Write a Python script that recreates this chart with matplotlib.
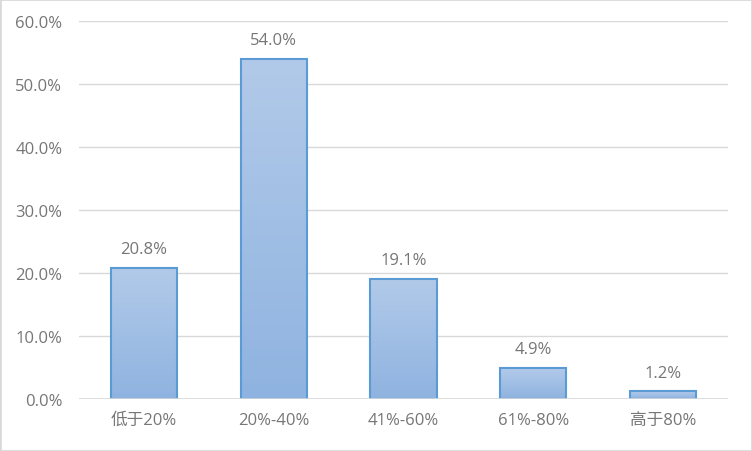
import numpy as np
import matplotlib.pyplot as plt
from matplotlib.colors import LinearSegmentedColormap
from matplotlib.patches import Rectangle

plt.rcParams['font.family'] = ['Open Sans', 'Noto Sans CJK SC', 'DejaVu Sans']

categories = ['低于20%', '20%-40%', '41%-60%', '61%-80%', '高于80%']
values = [20.8, 54.0, 19.1, 4.9, 1.2]
yticks = [0, 10, 20, 30, 40, 50, 60]

text_col = '#767676'

fig = plt.figure(figsize=(7.52, 4.52), dpi=100)
ax = fig.add_axes([0.105, 0.115, 0.863, 0.836])

x = np.arange(len(categories))
bars = ax.bar(x, values, width=0.51, color='none', edgecolor='#5B9BD5', linewidth=1.5, zorder=3)

# gradient fill inside each bar
grad = LinearSegmentedColormap.from_list('g', ['#8FB3E0', '#B2CAE9'])
for b in bars:
    x0, w, h = b.get_x(), b.get_width(), b.get_height()
    im = ax.imshow(np.linspace(0, 1, 100).reshape(-1, 1), cmap=grad, origin='lower',
                   extent=[x0, x0 + w, 0, h], aspect='auto', zorder=2)
    im.set_clip_path(b)

for xi, v in zip(x, values):
    ax.text(xi, v + 1.7, '{:.1f}%'.format(v), ha='center', va='bottom', fontsize=12, color=text_col)

ax.set_xlim(-0.5, 4.5)
ax.set_ylim(0, 60)
ax.set_yticks(yticks)
ax.set_yticklabels(['{:.1f}%'.format(t) for t in yticks])
ax.set_xticks(x)
ax.set_xticklabels(categories)
ax.tick_params(axis='both', length=0, labelsize=12, colors=text_col)
ax.tick_params(axis='y', pad=12)
ax.tick_params(axis='x', pad=9)
ax.grid(axis='y', color='#D9D9D9', linewidth=1, zorder=0)
for s in ax.spines.values():
    s.set_visible(False)
ax.axhline(0, color='#D9D9D9', linewidth=1.2, zorder=4)

fig.patches.append(Rectangle((0, 0), 1, 1, transform=fig.transFigure, fill=False,
                             edgecolor='#D9D9D9', linewidth=2))

fig.savefig('out.png', dpi=100)
